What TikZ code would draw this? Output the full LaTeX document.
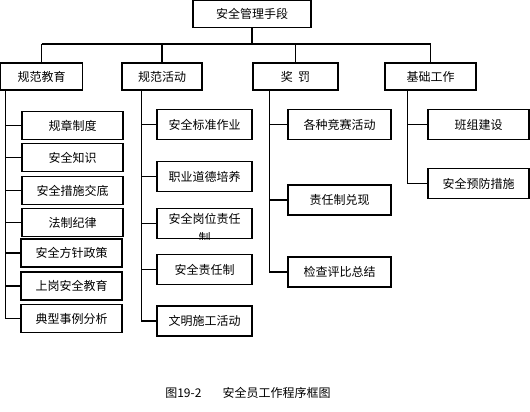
\documentclass[tikz,border=0pt]{standalone}
\usepackage{fontspec}
\setmainfont{Noto Sans CJK SC}
\usetikzlibrary{positioning, calc}

\begin{document}
\begin{tikzpicture}[
  x=0.75pt, y=-0.75pt,
  every node/.style={font=\fontsize{9}{11}\selectfont},
  topbox/.style={
    draw, line width=0.9pt, minimum width=88.5pt, minimum height=20.25pt,
    inner sep=0pt
  },
  headbox/.style={
    draw, line width=0.9pt, minimum width=#1, minimum height=20.25pt,
    inner sep=0pt
  },
  itembox/.style={
    draw, line width=0.9pt, minimum width=#1, minimum height=22.5pt,
    inner sep=0pt
  },
  smallbox/.style={itembox=#1, minimum height=21pt},
  link/.style={line width=0.8pt},
]

\useasboundingbox (0,0) rectangle (530,411);

% ============================================================
% Top and second level
% ============================================================
\node[topbox] (top) at (252,14) {安全管理手段};

\node[headbox=61pt]    (jy) at (41.5,76.5)  {规范教育};
\node[headbox=60pt]    (hd) at (162,76.5)   {规范活动};
\node[headbox=63.75pt] (jf) at (295.5,76.5) {奖\hspace{4pt}罚};
\node[headbox=68.25pt] (jc) at (430.5,76.5) {基础工作};

\coordinate (bus) at (0,44);
\draw[link] (top.south) -- (top.south |- bus);
\draw[link] (jy.north |- bus) -- (jc.north |- bus);
\foreach \n in {jy, hd, jf, jc}
  \draw[link] (\n.north |- bus) -- (\n.north);

% ============================================================
% Column 1: 规范教育
% ============================================================
\node[smallbox=75.75pt] (gzzd) at (72.5,125.5) {规章制度};
\node[smallbox=75.75pt] (aqzs) at (72.5,157.5) {安全知识};
\node[smallbox=75.75pt] (cssd) at (72.5,190.5) {安全措施交底};
\node[smallbox=75.75pt] (fzjl) at (72.5,222.5) {法制纪律};
\node[smallbox=75.75pt] (fzzc) at (71.5,253)   {安全方针政策};
\node[smallbox=75.75pt] (sgjy) at (71.5,286)   {上岗安全教育};
\node[smallbox=75.75pt] (dxsl) at (71.5,318.5) {典型事例分析};

\coordinate (jy-root) at ([xshift=4pt]jy.south west);
\draw[link] (jy-root) |- (dxsl.west);
\foreach \n in {gzzd, aqzs, cssd, fzjl, fzzc, sgjy}
  \draw[link] (jy-root |- \n.west) -- (\n.west);

% ============================================================
% Column 2: 规范活动
% ============================================================
\node[itembox=71.25pt] (bzzy) at (204.5,124.5) {安全标准作业};
\node[itembox=71.25pt] (zydd) at (204.5,176.5) {职业道德培养};
\node[itembox=71.25pt] (gwzr) at (204.5,223.5) {};
\node[itembox=71.25pt] (zrz)  at (204.5,269.5) {安全责任制};
\node[itembox=71.25pt] (wmsg) at (204.5,321)   {文明施工活动};

% wrapped text, second line cut by the box
\begin{scope}
  \clip (gwzr.south west) rectangle (gwzr.north east);
  \node[anchor=north, align=center, inner sep=0pt] (gwzr-text)
    at ([yshift=-3.5pt]gwzr.north) {安全岗位责任\\[3.5pt]制};
\end{scope}

\coordinate (hd-root) at ([xshift=15pt]hd.south west);
\draw[link] (hd-root) |- (wmsg.west);
\foreach \n in {bzzy, zydd, gwzr, zrz}
  \draw[link] (hd-root |- \n.west) -- (\n.west);

% ============================================================
% Column 3: 奖罚
% ============================================================
\node[itembox=77.25pt] (jshd) at (339.5,124.5) {各种竞赛活动};
\node[itembox=77.25pt] (zrdx) at (339.5,200)   {责任制兑现};
\node[itembox=77.25pt] (jcpb) at (339.5,272)   {检查评比总结};

\coordinate (jf-root) at ([xshift=12.75pt]jf.south west);
\draw[link] (jf-root) |- (jcpb.west);
\foreach \n in {jshd, zrdx}
  \draw[link] (jf-root |- \n.west) -- (\n.west);

% ============================================================
% Column 4: 基础工作
% ============================================================
\node[itembox=75.75pt] (bzjs) at (478.5,124.5) {班组建设};
\node[itembox=75.75pt] (yfcs) at (478.5,183.5) {安全预防措施};

\coordinate (jc-root) at ([xshift=17.25pt]jc.south west);
\draw[link] (jc-root) |- (yfcs.west);
\draw[link] (jc-root |- bzjs.west) -- (bzjs.west);

% Caption
\node (caption) at (248,393) {图19-2\hspace{16pt}安全员工作程序框图};

\end{tikzpicture}
\end{document}
